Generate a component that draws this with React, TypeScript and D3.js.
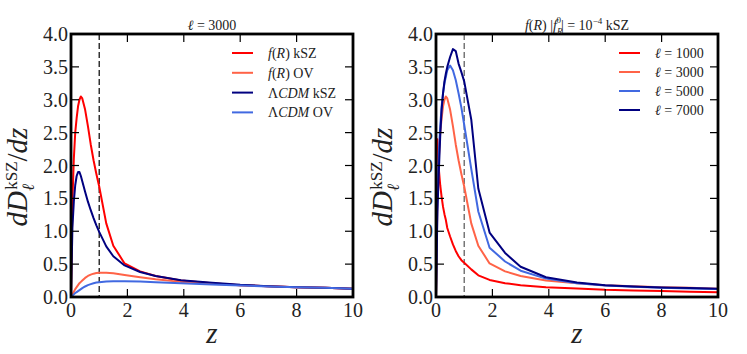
import React from "react";
import * as d3 from "d3";

// redshift samples shared by every curve
const zGrid = [0, 0.05, 0.1, 0.15, 0.2, 0.25, 0.3, 0.35, 0.4, 0.5, 0.6, 0.7, 0.8, 0.9, 1.0, 1.25, 1.5, 1.9, 2.45, 3.0, 3.9, 5, 6, 7, 8, 9, 10];

// left panel, l = 3000
const frKsz3000 = [0, 1.45, 2.1, 2.5, 2.72, 2.9, 3.0, 3.05, 3.02, 2.85, 2.6, 2.32, 2.08, 1.87, 1.68, 1.12, 0.78, 0.51, 0.39, 0.32, 0.25, 0.21, 0.18, 0.165, 0.15, 0.14, 0.125];
const frOv3000 = [0, 0.04, 0.08, 0.12, 0.15, 0.18, 0.21, 0.23, 0.25, 0.29, 0.32, 0.34, 0.355, 0.365, 0.37, 0.37, 0.36, 0.335, 0.3, 0.27, 0.23, 0.2, 0.18, 0.165, 0.15, 0.14, 0.125];
const lcdmKsz3000 = [0, 1.05, 1.45, 1.7, 1.84, 1.9, 1.9, 1.84, 1.76, 1.6, 1.45, 1.32, 1.2, 1.09, 0.99, 0.77, 0.62, 0.48, 0.38, 0.32, 0.255, 0.215, 0.185, 0.165, 0.15, 0.14, 0.125];
const lcdmOv3000 = [0, 0.02, 0.04, 0.06, 0.075, 0.09, 0.105, 0.12, 0.135, 0.16, 0.18, 0.195, 0.21, 0.22, 0.225, 0.235, 0.24, 0.24, 0.235, 0.225, 0.21, 0.19, 0.175, 0.16, 0.15, 0.14, 0.125];

// right panel, f(R) kSZ at several multipoles (l = 3000 is frKsz3000)
const frKsz1000 = [0, 2.4, 1.95, 1.7, 1.52, 1.37, 1.26, 1.17, 1.05, 0.92, 0.8, 0.7, 0.62, 0.56, 0.52, 0.42, 0.33, 0.26, 0.21, 0.18, 0.15, 0.13, 0.11, 0.1, 0.09, 0.08, 0.072];
const frKsz5000 = [0, 1.6, 2.2, 2.6, 2.9, 3.1, 3.25, 3.35, 3.45, 3.52, 3.45, 3.3, 3.1, 2.88, 2.62, 1.95, 1.3, 0.75, 0.54, 0.4, 0.28, 0.21, 0.175, 0.155, 0.14, 0.13, 0.12];
const frKsz7000 = [0, 1.3, 1.9, 2.45, 2.85, 3.1, 3.28, 3.4, 3.5, 3.65, 3.77, 3.74, 3.55, 3.42, 3.28, 2.7, 1.65, 0.98, 0.67, 0.46, 0.3, 0.22, 0.18, 0.16, 0.145, 0.135, 0.125];

const xTicks = [0, 2, 4, 6, 8, 10];
const yTicks = [0, 0.5, 1.0, 1.5, 2.0, 2.5, 3.0, 3.5, 4.0];

const RED = "#ff0000";
const TOMATO = "#ff6347";
const NAVY = "#000080";
const ROYAL = "#4169e1";
const FONT = "Liberation Serif";

type Series = { values: number[]; color: string; label: React.ReactNode };

const it = (s: string) => <tspan fontStyle="italic">{s}</tspan>;

function Panel({ x0, series, title, dashColor, legendLine, legendText, legendTop, legendStep, id }: {
  x0: number; series: Series[]; title: React.ReactNode; dashColor: string;
  legendLine: number; legendText: number; legendTop: number; legendStep: number; id: string;
}) {
  const w = 282, top = 34, bottom = 297;
  const x = d3.scaleLinear().domain([0, 10]).range([x0, x0 + w]);
  const y = d3.scaleLinear().domain([0, 4]).range([bottom, top]);
  const line = d3.line<number>().x((_, i) => x(zGrid[i])).y((v) => y(v));
  const tl = 8;
  return (
    <g style={{ fontFamily: FONT }}>
      <clipPath id={id}><rect x={x0} y={top} width={w} height={bottom - top} /></clipPath>
      <g clipPath={`url(#${id})`}>
        <line x1={x(1)} x2={x(1)} y1={top} y2={bottom} stroke={dashColor} strokeWidth={1.2} strokeDasharray="6,3" />
        {series.map((s, i) => (
          <path key={i} d={line(s.values) || ""} fill="none" stroke={s.color} strokeWidth={2} strokeLinejoin="round" />
        ))}
      </g>
      {xTicks.slice(1, -1).map((t) => (
        <g key={"xt" + t} stroke="#000" strokeWidth={1.2}>
          <line x1={x(t)} x2={x(t)} y1={bottom} y2={bottom - tl} />
          <line x1={x(t)} x2={x(t)} y1={top} y2={top + tl} />
        </g>
      ))}
      {yTicks.slice(1, -1).map((t) => (
        <g key={"yt" + t} stroke="#000" strokeWidth={1.2}>
          <line x1={x0} x2={x0 + tl} y1={y(t)} y2={y(t)} />
          <line x1={x0 + w} x2={x0 + w - tl} y1={y(t)} y2={y(t)} />
        </g>
      ))}
      <rect x={x0} y={top} width={w} height={bottom - top} fill="none" stroke="#000" strokeWidth={2.8} />
      {xTicks.map((t) => (
        <text key={"xl" + t} x={x(t)} y={317} textAnchor="middle" fontSize={20} fill="#222">{t}</text>
      ))}
      {yTicks.map((t) => (
        <text key={"yl" + t} x={x0 - 3} y={y(t) + 7} textAnchor="end" fontSize={20} fill="#222">{t.toFixed(1)}</text>
      ))}
      <text x={x0 + w / 2} y={30} textAnchor="middle" fontSize={14} fill="#222">{title}</text>
      {series.map((s, i) => (
        <g key={"lg" + i}>
          <line x1={x0 + legendLine} x2={x0 + legendLine + 21} y1={legendTop + i * legendStep} y2={legendTop + i * legendStep} stroke={s.color} strokeWidth={2} />
          <text x={x0 + legendText} y={legendTop + i * legendStep + 5} fontSize={14} fill="#222">{s.label}</text>
        </g>
      ))}
      <text transform={`translate(${x0 - 44},177) rotate(-90)`} textAnchor="middle" fontSize={29} fill="#222">
        <tspan fontStyle="italic">dD</tspan>
        <tspan fontSize={17} fontStyle="italic" dy={7}>ℓ</tspan>
        <tspan fontSize={17} dx={-6} dy={-17}>kSZ</tspan>
        <tspan dy={10}>/</tspan>
        <tspan fontStyle="italic">dz</tspan>
      </text>
      <text x={x0 + w / 2} y={343} textAnchor="middle" fontSize={29} fontStyle="italic" fill="#222">z</text>
    </g>
  );
}

export default function App() {
  const leftSeries: Series[] = [
    { values: frKsz3000, color: RED, label: <>{it("f")}({it("R")}) kSZ</> },
    { values: frOv3000, color: TOMATO, label: <>{it("f")}({it("R")}) OV</> },
    { values: lcdmKsz3000, color: NAVY, label: <>Λ{it("CDM")} kSZ</> },
    { values: lcdmOv3000, color: ROYAL, label: <>Λ{it("CDM")} OV</> },
  ];
  const rightSeries: Series[] = [
    { values: frKsz1000, color: RED, label: <>{it("ℓ")} = 1000</> },
    { values: frKsz3000, color: TOMATO, label: <>{it("ℓ")} = 3000</> },
    { values: frKsz5000, color: ROYAL, label: <>{it("ℓ")} = 5000</> },
    { values: frKsz7000, color: NAVY, label: <>{it("ℓ")} = 7000</> },
  ];
  const rightTitle = (
    <>
      {it("f")}({it("R")}) |{it("f")}
      <tspan fontSize={9} fontStyle="italic" dy={4}>R</tspan>
      <tspan fontSize={9} dx={-6} dy={-11}>0</tspan>
      <tspan dy={7}>| = 10</tspan>
      <tspan fontSize={9} dy={-6}>−4</tspan>
      <tspan dy={6}> kSZ</tspan>
    </>
  );
  return (
    <svg width={747} height={354} style={{ position: "absolute", left: 0, top: 0, background: "#fff" }}>
      <Panel id="clipL" x0={71} series={leftSeries} title={<>{it("ℓ")} = 3000</>} dashColor="#000"
        legendLine={161} legendText={197} legendTop={53} legendStep={19.8} />
      <Panel id="clipR" x0={436} series={rightSeries} title={rightTitle} dashColor="#555"
        legendLine={183} legendText={219} legendTop={53} legendStep={19} />
    </svg>
  );
}
